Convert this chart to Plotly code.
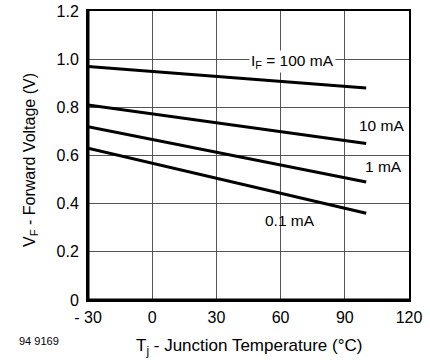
import plotly.graph_objects as go

temperature = [-30, 100]
vf_100mA = [0.97, 0.88]
vf_10mA = [0.81, 0.65]
vf_1mA = [0.72, 0.49]
vf_01mA = [0.63, 0.36]

x_tickvals = [-30, 0, 30, 60, 90, 120]
x_ticktext = ["- 30", "0", "30", "60", "90", "120"]
y_tickvals = [0, 0.2, 0.4, 0.6, 0.8, 1.0, 1.2]
y_ticktext = ["0", "0.2", "0.4", "0.6", "0.8", "1.0", "1.2"]

series = [
    ("I<sub>F</sub> = 100 mA", vf_100mA),
    ("10 mA", vf_10mA),
    ("1 mA", vf_1mA),
    ("0.1 mA", vf_01mA),
]

FONT = "Liberation Sans, Arial, sans-serif"
fig = go.Figure()
for name, vals in series:
    fig.add_trace(go.Scatter(x=temperature, y=vals, mode="lines", name=name,
                             line=dict(color="black", width=3), showlegend=False))

# curve labels
labels = [
    (-30 + (292 - 88) / 2.14, (300 - 62) / 240.8, "I<sub>F</sub> = 100 mA", True),
    (-30 + (381 - 88) / 2.14, (300 - 126) / 240.8, "10 mA", False),
    (-30 + (383 - 88) / 2.14, (300 - 167) / 240.8, "1 mA", True),
    (-30 + (290 - 88) / 2.14, (300 - 221) / 240.8, "0.1 mA", False),
]
for lx, ly, txt, bg in labels:
    fig.add_annotation(x=lx, y=ly, text=txt, showarrow=False,
                       font=dict(family=FONT, size=15.5, color="black"),
                       bgcolor="white" if bg else "rgba(0,0,0,0)", borderpad=1)

fig.add_annotation(xref="paper", yref="paper", x=0.5, y=-(347 - 300) / 289,
                   text="T<sub>j</sub> - Junction Temperature (°C)", showarrow=False,
                   font=dict(family=FONT, size=17, color="black"), yanchor="middle")
fig.add_annotation(xref="paper", yref="paper", x=-(88 - 30) / 321, y=(300 - 160) / 289,
                   text="V<sub>F</sub> - Forward Voltage (V)", showarrow=False, textangle=-90,
                   font=dict(family=FONT, size=16, color="black"), xanchor="center")
fig.add_annotation(xref="paper", yref="paper", x=-(88 - 17) / 321, y=-(349 - 300) / 289,
                   text="94 9169", showarrow=False, xanchor="left",
                   font=dict(family=FONT, size=11, color="black"))

fig.update_layout(
    width=430, height=360,
    margin=dict(l=88, r=21, t=11, b=60),
    plot_bgcolor="white", paper_bgcolor="white",
    font=dict(family=FONT, size=16, color="black"),
    xaxis=dict(range=[-30, 120], tickvals=x_tickvals, ticktext=x_ticktext,
               showgrid=True, gridcolor="#555", gridwidth=1, zeroline=False,
               showline=True, linecolor="black", linewidth=2, mirror=True,
               ticks="", ticklabelstandoff=2, automargin=False),
    yaxis=dict(range=[0, 1.2], tickvals=y_tickvals, ticktext=y_ticktext,
               showgrid=True, gridcolor="#555", gridwidth=1, zeroline=False,
               showline=True, linecolor="black", linewidth=2, mirror=True,
               ticks="", ticklabelstandoff=4, automargin=False),
)
fig.add_shape(type="line", xref="paper", yref="paper", x0=0, x1=1, y0=0, y1=0,
              line=dict(color="black", width=3))
fig.add_shape(type="line", xref="paper", yref="paper", x0=0, x1=0, y0=0, y1=1,
              line=dict(color="black", width=3))

# remove the default 8px page margin so the 430x360 figure fills the window
fig.write_html("out.html", config={"displayModeBar": False},
               post_script="document.body.style.margin='0';")
